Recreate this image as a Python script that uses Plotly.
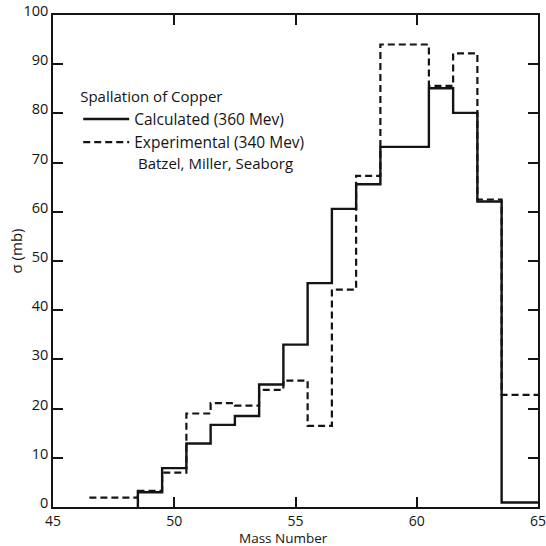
import plotly.graph_objects as go

# Spallation cross sections of copper, one bin per mass number
mass_calc = [49, 50, 51, 52, 53, 54, 55, 56, 57, 58, 59, 60, 61, 62, 63, 64]
sigma_calc = [3.0, 7.9, 12.9, 16.7, 18.5, 24.9, 33.0, 45.5, 60.6, 65.6,
              73.2, 73.2, 85.1, 80.1, 62.1, 0.9]

mass_exp = [47, 48, 49, 50, 51, 52, 53, 54, 55, 56, 57, 58, 59, 60, 61, 62, 63, 64]
sigma_exp = [1.9, 1.9, 3.3, 7.0, 19.0, 21.1, 20.6, 23.8, 25.7, 16.5, 44.2,
             67.3, 94.0, 94.0, 85.6, 92.2, 62.5, 22.8]

x_range = [45, 65]
x_ticks = [45, 50, 55, 60, 65]
y_ticks = [0, 10, 20, 30, 40, 50, 60, 70, 80, 90, 100]

INK = "#141414"
FONT = "Open Sans"


def step_outline(mass, sigma, right_edge):
    """Histogram outline: left bin edges plus the closing right edge."""
    xs = [m - 0.5 for m in mass] + [right_edge]
    ys = list(sigma) + [sigma[-1]]
    return xs, ys


xe, ye = step_outline(mass_exp, sigma_exp, x_range[1])
xc, yc = step_outline(mass_calc, sigma_calc, x_range[1])
# the calculated histogram rises from the baseline
xc = [xc[0]] + xc
yc = [0] + yc

fig = go.Figure()
fig.add_trace(go.Scatter(
    x=xe, y=ye, mode="lines", line_shape="hv",
    name="Experimental (340 Mev)",
    line=dict(color=INK, width=2.2, dash="7px,4px"),
))
fig.add_trace(go.Scatter(
    x=xc, y=yc, mode="lines", line_shape="hv",
    name="Calculated (360 Mev)",
    line=dict(color=INK, width=2.4),
))

axis_common = dict(
    showline=True, linecolor=INK, linewidth=1.5, mirror="allticks",
    ticks="inside", ticklen=10, tickwidth=1.5, tickcolor=INK,
    showgrid=False, zeroline=False, automargin=False,
    ticklabeloverflow="allow",
)

fig.update_layout(
    width=546, height=546,
    margin=dict(l=53, r=8, t=15, b=39),
    paper_bgcolor="white", plot_bgcolor="white",
    font=dict(family=FONT, color=INK),
    xaxis=dict(range=x_range, tickvals=x_ticks, ticklabelstandoff=0,
               tickfont=dict(family=FONT, size=14, color=INK),
               **axis_common),
    yaxis=dict(range=[0, 100], tickvals=y_ticks, ticklabelshift=-4,
               tickfont=dict(family=FONT, size=14.5, color=INK),
               **axis_common),
    legend=dict(
        x=0.052, y=0.862, xanchor="left", yanchor="top",
        traceorder="reversed",
        bgcolor="rgba(0,0,0,0)",
        title=dict(text="Spallation of Copper",
                   font=dict(family=FONT, size=15, color=INK)),
        font=dict(family=FONT, size=15.5, color=INK),
        itemwidth=46, tracegroupgap=0,
    ),
    showlegend=True,
)

# axis titles
fig.add_annotation(
    text="Mass Number", xref="paper", yref="paper",
    x=0.476, y=-0.062, xanchor="center", yanchor="middle", showarrow=False,
    font=dict(family=FONT, size=13.5, color=INK),
)
fig.add_annotation(
    text="σ (mb)", xref="paper", yref="paper", textangle=-90,
    x=-0.0756, y=0.52, xanchor="center", yanchor="middle", showarrow=False,
    font=dict(family=FONT, size=15, color=INK),
)

fig.add_annotation(
    text="Batzel, Miller, Seaborg", xref="paper", yref="paper",
    x=0.172, y=0.699, xanchor="left", yanchor="middle", showarrow=False,
    font=dict(family=FONT, size=15, color=INK),
)

fig.write_html("out.html")
